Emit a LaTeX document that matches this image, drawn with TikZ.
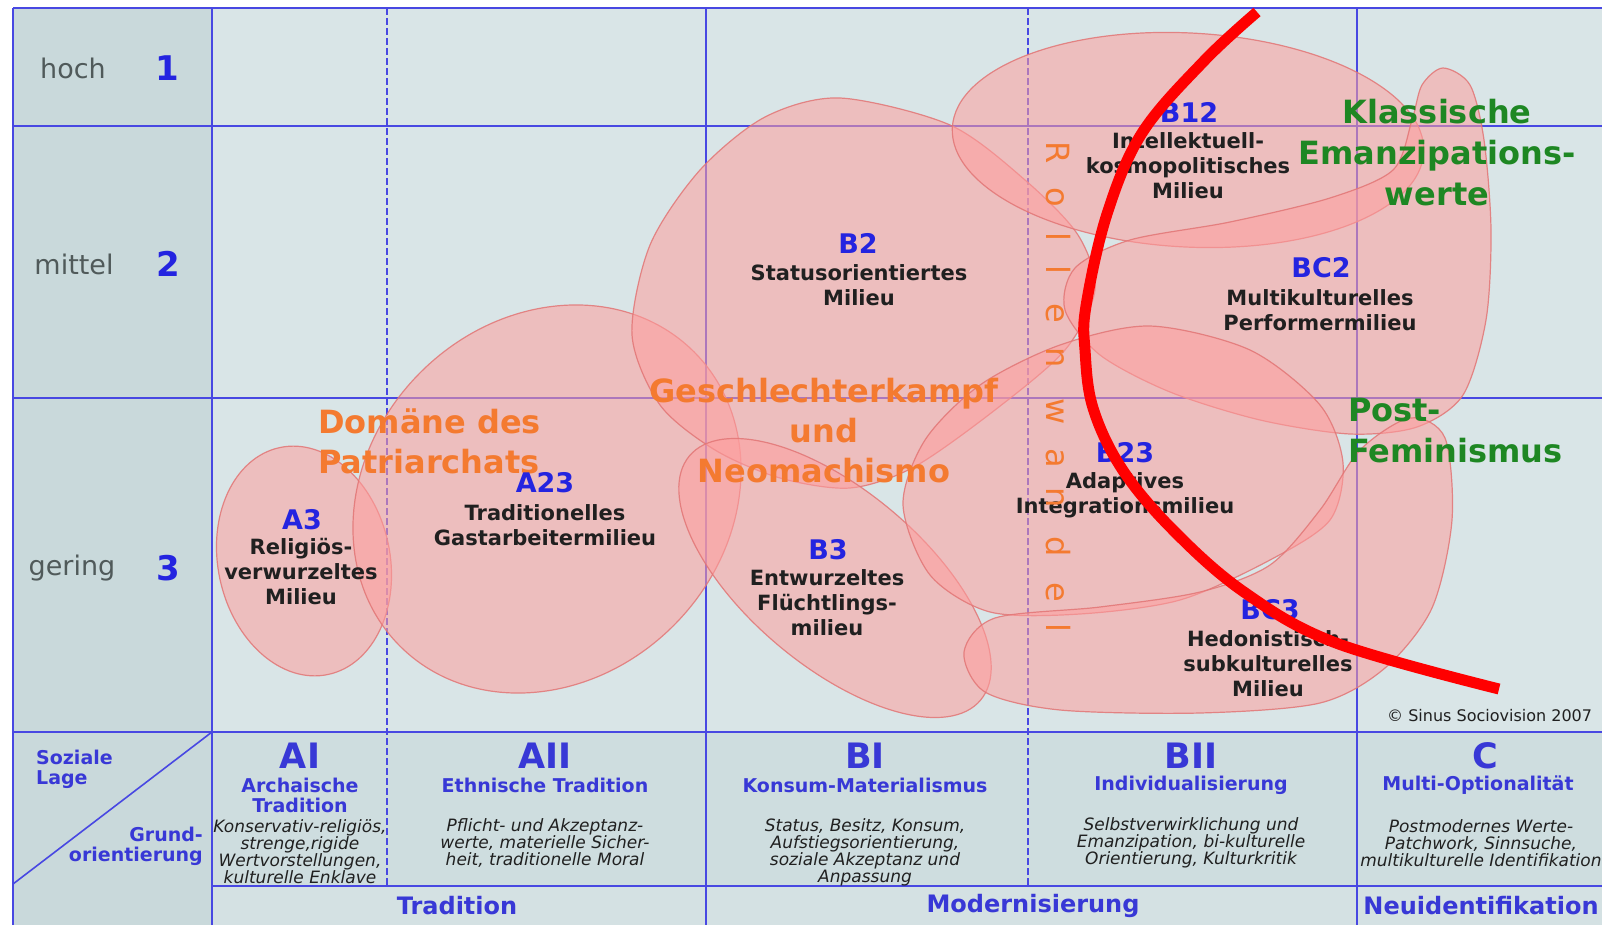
\documentclass[tikz,border=0pt]{standalone}
\usepackage{fontspec}
\setmainfont{DejaVu Sans}

\definecolor{linie}{RGB}{72,72,226}
\definecolor{spalte}{RGB}{201,217,219}
\definecolor{feld}{RGB}{217,229,231}
\definecolor{kopffeld}{RGB}{206,221,223}
\definecolor{bandfeld}{RGB}{212,225,227}
\definecolor{rosa}{RGB}{255,158,158}
\definecolor{rand}{RGB}{226,118,118}
\definecolor{blau}{RGB}{36,36,224}
\definecolor{kopfblau}{RGB}{56,56,214}
\definecolor{dunkel}{RGB}{32,32,32}
\definecolor{grau}{RGB}{80,90,90}
\definecolor{orangeton}{RGB}{244,122,48}
\definecolor{gruen}{RGB}{30,135,35}

\begin{document}
\begin{tikzpicture}[x=1pt,y=-1pt,
    gitter/.style={linie,line width=2pt},
    strich/.style={linie,line width=1.4pt,dash pattern=on 7pt off 3pt},
    milieu/.style={fill=rosa,fill opacity=0.55,draw=rand,draw opacity=0.85,line width=1.2pt},
    kode/.style={text=blau,font=\bfseries\fontsize{27}{30}\selectfont,inner sep=0pt},
    besch/.style={text=dunkel,font=\bfseries\fontsize{21}{25}\selectfont,align=center,inner sep=0pt},
    lage/.style={text=grau,font=\fontsize{27}{30}\selectfont,inner sep=0pt},
    zahl/.style={text=blau,font=\bfseries\fontsize{34}{36}\selectfont,inner sep=0pt},
    titel/.style={text=kopfblau,font=\bfseries\fontsize{35}{40}\selectfont,inner sep=0pt},
    kopf/.style={text=kopfblau,font=\bfseries\fontsize{19}{20}\selectfont,align=center,inner sep=0pt},
    kursiv/.style={text=dunkel,font=\itshape\fontsize{17}{17}\selectfont,align=center,inner sep=0pt},
    leit/.style={text=orangeton,font=\bfseries\fontsize{32}{40}\selectfont,inner sep=0pt},
    wert/.style={text=gruen,font=\bfseries\fontsize{32}{41}\selectfont,inner sep=0pt},
    wandel/.style={text=orangeton,font=\fontsize{32}{32}\selectfont,rotate=-90,anchor=base,inner sep=0pt}]

    \useasboundingbox (0,0) rectangle (1602,925);
    \clip (0,0) rectangle (1602,925);
    \fill[white] (0,0) rectangle (1602,925);

    % flaechen
    \fill[spalte] (13,8) rectangle (1602,925);
    \fill[feld] (212,8) rectangle (1602,732);
    \fill[kopffeld] (212,732) rectangle (1602,886);
    \fill[bandfeld] (212,886) rectangle (1602,925);

    % raster
    \foreach \y in {8,126,398,732}
        \draw[gitter] (13,\y) -- (1602,\y);
    \draw[gitter] (212,886) -- (1602,886);
    \foreach \x in {13,212,706,1357}
        \draw[gitter] (\x,8) -- (\x,925);
    \foreach \x in {387,1028}
        \draw[strich] (\x,8) -- (\x,886);
    \draw[gitter,line width=1.6pt] (13,884) -- (212,732);

    % soziale lage
    \draw (73,68) node[lage] (hoch) {hoch};
    \draw (167,68) node[zahl] (z1) {1};
    \draw (74,264) node[lage] (mittel) {mittel};
    \draw (168,264) node[zahl] (z2) {2};
    \draw (72,568) node[lage] (gering) {gering};
    \draw (168,568) node[zahl] (z3) {3};

    % ecke links unten
    \node[kopf,align=left,anchor=west] (sozial) at (36,769) {Soziale\\Lage};
    \node[kopf,align=right,anchor=east] (grund) at (203,846) {Grund-\\orientierung};

    % grundorientierungen
    \draw (300,756) node[titel] (ai) {AI};
    \draw (300,795) node[kopf] (ait) {Archaische\\Tradition};
    \draw (300,852) node[kursiv] (aik) {Konservativ-religiös,\\strenge,rigide\\Wertvorstellungen,\\kulturelle Enklave};

    \draw (545,756) node[titel] (aii) {AII};
    \draw (545,785) node[kopf] (aiit) {Ethnische Tradition};
    \draw (545,843) node[kursiv] (aiik) {Pflicht- und Akzeptanz-\\werte, materielle Sicher-\\heit, traditionelle Moral};

    \draw (865,756) node[titel] (bi) {BI};
    \draw (865,785) node[kopf] (bit) {Konsum-Materialismus};
    \draw (865,852) node[kursiv] (bik) {Status, Besitz, Konsum,\\Aufstiegsorientierung,\\soziale Akzeptanz und\\Anpassung};

    \draw (1191,756) node[titel] (bii) {BII};
    \draw (1191,785) node[kopf] (biit) {Individualisierung};
    \draw (1191,843) node[kursiv] (biik) {Selbstverwirklichung und\\Emanzipation, bi-kulturelle\\Orientierung, Kulturkritik};

    \draw (1485,756) node[titel] (c) {C};
    \draw (1478,785) node[kopf] (ct) {Multi-Optionalität};
    \draw (1481,843) node[kursiv] (ck) {Postmodernes Werte-\\Patchwork, Sinnsuche,\\multikulturelle Identifikation};

    % band unten
    \draw (457,906) node[kopf,font=\bfseries\fontsize{24}{26}\selectfont] (trad) {Tradition};
    \draw (1033,906) node[kopf,font=\bfseries\fontsize{24}{26}\selectfont] (mod) {Modernisierung};
    \draw (1481,906) node[kopf,font=\bfseries\fontsize{24}{26}\selectfont] (neu) {Neuidentifikation};

    % milieus
    \draw[milieu,rotate around={12:(304,561)}] (304,561) ellipse [x radius=86,y radius=116];
    \draw[milieu,rotate around={45:(547,499)}] (547,499) ellipse [x radius=208,y radius=179];
    \draw[milieu] plot[smooth cycle] coordinates {(840,98) (950,125) (1025,180) (1078,235)
        (1095,290) (1065,350) (995,410) (914,467) (850,488) (780,478) (715,450) (660,405)
        (632,335) (650,245) (700,170) (765,117)};
    \draw[milieu,rotate around={-40:(835,578)}] (835,578) ellipse [x radius=190,y radius=88];
    \draw[milieu,rotate around={-3:(1188,140)}] (1188,140) ellipse [x radius=236,y radius=107];
    \draw[milieu] plot[smooth cycle] coordinates {(1443,68) (1470,85) (1484,140) (1491,230)
        (1486,320) (1463,395) (1417,427) (1350,434) (1260,420) (1170,392) (1100,355)
        (1065,310) (1075,268) (1130,240) (1230,222) (1330,198) (1393,170) (1412,120) (1422,85)};
    \draw[milieu] plot[smooth cycle] coordinates {(903,505) (925,440) (980,385) (1060,345)
        (1150,326) (1250,350) (1320,405) (1343,463) (1330,520) (1270,560) (1180,600)
        (1080,614) (990,612) (930,575)};
    \draw[milieu] plot[smooth cycle] coordinates {(964,652) (995,618) (1100,607) (1200,592)
        (1270,565) (1320,510) (1360,450) (1410,418) (1445,438) (1452,520) (1432,608)
        (1385,668) (1320,703) (1200,713) (1060,710) (985,692)};

    % leitbilder
    \node[leit,align=left,anchor=west] (patri) at (318,441) {Domäne des\\Patriarchats};
    \node[leit,align=center] (kampf) at (824,431) {Geschlechterkampf\\und\\Neomachismo};
    \node[wert,align=center] (klass) at (1437,153) {Klassische\\Emanzipations-\\werte};
    \node[wert,align=left,anchor=west] (post) at (1348,431) {Post-\\Feminismus};

    % milieu-namen
    \draw (302,520) node[kode] (a3) {A3};
    \draw (301,572) node[besch] (a3t) {Religiös-\\verwurzeltes\\Milieu};
    \draw (545,483) node[kode] (a23) {A23};
    \draw (545,525) node[besch] (a23t) {Traditionelles\\Gastarbeitermilieu};
    \draw (858,243) node[kode] (b2) {B2};
    \draw (859,285) node[besch] (b2t) {Statusorientiertes\\Milieu};
    \draw (828,550) node[kode] (b3) {B3};
    \draw (827,603) node[besch] (b3t) {Entwurzeltes\\Flüchtlings-\\milieu};
    \draw (1189,112) node[kode] (b12) {B12};
    \draw (1188,166) node[besch] (b12t) {Intellektuell-\\kosmopolitisches\\Milieu};
    \draw (1321,268) node[kode] (bc2) {BC2};
    \draw (1320,310) node[besch] (bc2t) {Multikulturelles\\Performermilieu};
    \draw (1125,453) node[kode] (b23) {B23};
    \draw (1125,495) node[besch] (b23t) {Adaptives\\Integrationsmilieu};
    \draw (1270,610) node[kode] (bc3) {BC3};
    \draw (1268,664) node[besch] (bc3t) {Hedonistisch-\\subkulturelles\\Milieu};

    % rollenwandel
    \foreach \b/\y [count=\i] in {R/153,o/197,l/237,l/270,e/313,n/358,w/412,a/458,n/498,d/547,e/592,l/628}
        \node[wandel] (rw\i) at (1046,\y) {\b};
    \draw[red,line width=11pt] plot[smooth,tension=0.6] coordinates {(1257,12) (1204,61)
        (1142,133) (1107,214) (1086,306) (1085,350) (1093,408) (1122,469) (1173,530)
        (1244,592) (1336,643) (1499,689)};

    \node[anchor=west,text=dunkel,font=\fontsize{16}{16}\selectfont,inner sep=0pt] (copy) at (1387,716) {© Sinus Sociovision 2007};
\end{tikzpicture}
\end{document}
